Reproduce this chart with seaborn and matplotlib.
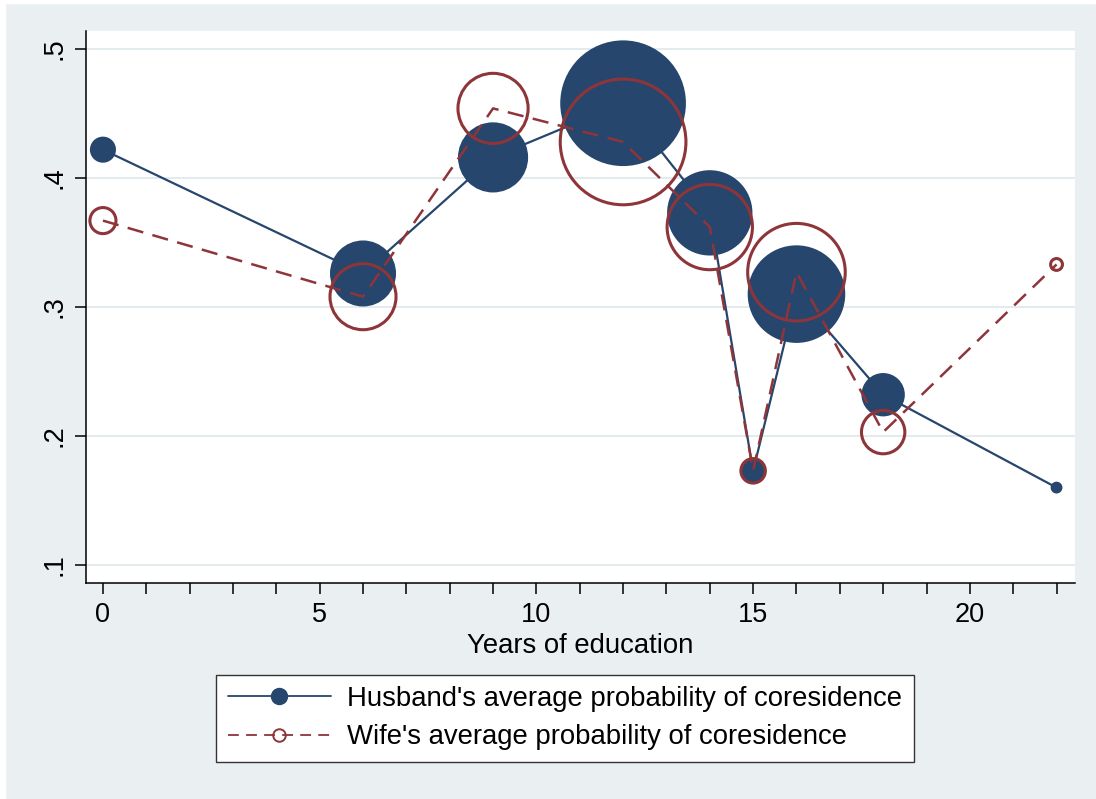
import numpy as np
import pandas as pd
import seaborn as sns
import matplotlib.pyplot as plt
from matplotlib.lines import Line2D
from matplotlib.patches import Rectangle

# Data
years = [0, 6, 9, 12, 14, 15, 16, 18, 22]
husband = [0.422, 0.326, 0.416, 0.458, 0.373, 0.173, 0.310, 0.232, 0.160]
wife = [0.367, 0.308, 0.454, 0.428, 0.362, 0.173, 0.327, 0.203, 0.333]
# bubble weight (area of marker), shared by both series
weight = [17, 109, 123, 395, 182, 15, 238, 47, 3.5]

df = pd.DataFrame({"years": years, "husband": husband, "wife": wife, "weight": weight})

navy = "#26466d"
maroon = "#8e3539"
bg = "#eaeff2"
grid = "#e4ebef"

sns.set_theme(style="white")
plt.rcParams["font.family"] = ["Liberation Sans", "DejaVu Sans"]

fig = plt.figure(figsize=(10.96, 7.99), dpi=100, facecolor=bg)
# thin white strip along the top and left edge
fig.patches.append(Rectangle((0, 0.996), 1, 0.004, transform=fig.transFigure, color="white", zorder=-1))
fig.patches.append(Rectangle((0, 0), 0.0045, 1, transform=fig.transFigure, color="white", zorder=-1))

ax = fig.add_axes([0.0785, 0.2703, 0.9025, 0.6909])
ax.set_facecolor("white")

size_max = 20.736 * 400
sns.scatterplot(data=df, x="years", y="husband", size="weight", sizes=(0, size_max),
                size_norm=(0, 400), color=navy, edgecolor=navy, linewidth=0,
                legend=False, ax=ax, zorder=2)
sns.lineplot(data=df, x="years", y="husband", color=navy, lw=1.6, ax=ax, zorder=3)
sns.lineplot(data=df, x="years", y="wife", color=maroon, lw=1.8,
             linestyle=(0, (6.5, 3.8)), ax=ax, zorder=4)
sns.scatterplot(data=df, x="years", y="wife", size="weight", sizes=(0, size_max),
                size_norm=(0, 400), color=maroon, facecolor="none", edgecolor=maroon,
                linewidth=2.2, legend=False, ax=ax, zorder=5)

ax.set_xlim(-0.39, 22.43)
ax.set_ylim(0.086, 0.514)

ax.set_xticks([0, 5, 10, 15, 20])
ax.set_xticks(range(0, 23), minor=True)
ax.set_yticks([0.1, 0.2, 0.3, 0.4, 0.5])
ax.set_yticklabels([".1", ".2", ".3", ".4", ".5"], rotation=90, va="center")
ax.tick_params(axis="both", which="both", direction="out", length=8, width=1.1,
               color="black", labelsize=19.5, labelcolor="black", pad=5,
               bottom=True, left=True)
ax.tick_params(axis="x", which="minor", length=8)
ax.tick_params(axis="x", which="major", pad=6)
ax.grid(axis="y", color=grid, lw=1.4)
ax.grid(axis="x", visible=False)
ax.set_axisbelow(True)

for side in ["top", "right"]:
    ax.spines[side].set_visible(False)
for side in ["left", "bottom"]:
    ax.spines[side].set_color("black")
    ax.spines[side].set_linewidth(1.1)

ax.set_xlabel("Years of education", fontsize=19.8, color="black", labelpad=3)
ax.set_ylabel("")

handles = [
    Line2D([], [], color=navy, lw=1.3, marker="o", markersize=11.5,
           markerfacecolor=navy, markeredgecolor=navy),
    Line2D([], [], color=maroon, lw=1.3, linestyle=(0, (6, 4)), marker="o",
           markersize=9, markerfacecolor="none", markeredgecolor=maroon, markeredgewidth=1.4),
]
labels = ["Husband's average probability of coresidence",
          "Wife's average probability of coresidence"]
leg = fig.legend(handles, labels, loc="center", bbox_to_anchor=(0.5155, 0.1012),
                 fontsize=19.8, frameon=True, fancybox=False, edgecolor="#333333",
                 facecolor="white", framealpha=1, handlelength=3.75, handletextpad=0.6,
                 labelspacing=0.44, borderpad=0.42, borderaxespad=0)
leg.get_frame().set_linewidth(1.0)
for t in leg.get_texts():
    t.set_color("black")

fig.savefig("out.png", dpi=100, facecolor=fig.get_facecolor())
